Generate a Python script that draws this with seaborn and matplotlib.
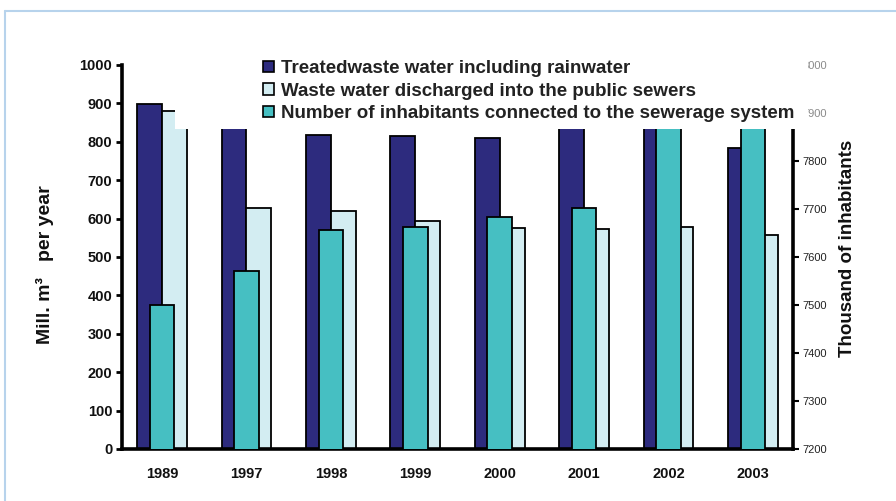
import matplotlib
matplotlib.use("Agg")
import matplotlib.pyplot as plt
from matplotlib.patches import Rectangle, Patch
from matplotlib.lines import Line2D
import seaborn as sns
import pandas as pd

# --- data -------------------------------------------------------------
years = ["1989", "1997", "1998", "1999", "2000", "2001", "2002", "2003"]
treated = [898, 850, 819, 816, 809, 845, 840, 783]          # Mill. m³ per year
discharged = [880, 628, 620, 593, 576, 572, 577, 558]       # Mill. m³ per year
inhabitants = [7500, 7571, 7656, 7663, 7683, 7703, 7870, 7890]  # thousand

series_names = [
    "Treatedwaste water including rainwater",
    "Waste water discharged into the public sewers",
    "Number of inhabitants connected to the sewerage system",
]
left_ticks = [0, 100, 200, 300, 400, 500, 600, 700, 800, 900, 1000]
right_ticks = [7200, 7300, 7400, 7500, 7600, 7700, 7800, 7900, 8000]

NAVY = "#2D2B7E"
PALE = "#D3EDF2"
TEAL = "#46BFC2"

sns.set_theme(style="white")
plt.rcParams["font.family"] = ["Liberation Sans", "DejaVu Sans"]

df = pd.DataFrame({
    "year": years * 2,
    "value": treated + discharged,
    "series": [series_names[0]] * len(years) + [series_names[1]] * len(years),
})

fig = plt.figure(figsize=(8.96, 5.01), dpi=100)
W, H = 896, 501
ax = fig.add_axes([122 / W, 1 - 449 / H, (793 - 122) / W, (449 - 65) / H])

sns.barplot(data=df, x="year", y="value", hue="series",
            palette=[NAVY, PALE], width=0.59, edgecolor="black",
            linewidth=1.3, ax=ax, legend=False, saturation=1)

ax2 = ax.twinx()
sns.barplot(x=years, y=inhabitants, color=TEAL, width=0.29,
            edgecolor="black", linewidth=1.3, ax=ax2, saturation=1)

for a in (ax, ax2):
    a.set_xlim(-0.475, 7.475)
    a.set_xlabel("")
    for s in a.spines.values():
        s.set_visible(False)

ax.set_ylim(0, 1000)
ax.set_yticks(left_ticks)
ax2.set_ylim(7200, 8000)
ax2.set_yticks(right_ticks)

ax.spines["left"].set_visible(True)
ax.spines["bottom"].set_visible(True)
ax2.spines["right"].set_visible(True)
for sp in (ax.spines["left"], ax.spines["bottom"], ax2.spines["right"]):
    sp.set_linewidth(2.6)
    sp.set_color("black")
ax2.spines["right"].set_zorder(3)

ax.tick_params(axis="y", direction="out", length=4, width=2, pad=3,
               left=True, labelsize=10.5, colors="black")
ax.tick_params(axis="x", length=0, pad=13, labelsize=10.5)
for lab in ax.get_yticklabels() + ax.get_xticklabels():
    lab.set_fontweight("bold")
    lab.set_color("#111111")

ax2.tick_params(axis="y", direction="out", length=4, width=1.5, pad=3,
                right=True, labelsize=8, colors="black")
for lab, v in zip(ax2.get_yticklabels(), right_ticks):
    lab.set_color("#8a8a8a" if v >= 7900 else "#222222")

ax.set_ylabel("Mill. m³   per year", fontsize=14, fontweight="bold",
              color="#111111")
ax.yaxis.set_label_coords(-0.102, 0.48)
ax2.set_ylabel("Thousand of inhabitants", fontsize=13.5, fontweight="bold",
               color="#111111")
ax2.yaxis.set_label_coords(1.068, 0.523)

# white panel behind the legend, laid over the top of the plot area
fig.patches.append(Rectangle((175 / W, 1 - 129 / H), (808 - 175) / W,
                             (129 - 35) / H, transform=fig.transFigure,
                             facecolor="white", edgecolor="none", zorder=10))

handles = [Patch(facecolor=c, edgecolor="black", linewidth=1.2)
           for c in (NAVY, PALE, TEAL)]
leg = fig.legend(handles, series_names, loc="upper left",
                 bbox_to_anchor=(263 / W, 1 - 60 / H),
                 frameon=False, fontsize=13.5, handlelength=0.56,
                 handleheight=0.56, handletextpad=0.42, labelspacing=0.3,
                 borderpad=0, borderaxespad=0)
leg.set_zorder(11)
for t in leg.get_texts():
    t.set_fontweight("bold")
    t.set_color("#222222")

# thin page frame
frame_kw = dict(transform=fig.transFigure, color="#B7D3EC", linewidth=1.5,
                zorder=12)
fig.lines.append(Line2D([5 / W, 1], [1 - 11 / H, 1 - 11 / H], **frame_kw))
fig.lines.append(Line2D([5 / W, 5 / W], [0, 1 - 11 / H], **frame_kw))

fig.savefig("out.png", dpi=100)
